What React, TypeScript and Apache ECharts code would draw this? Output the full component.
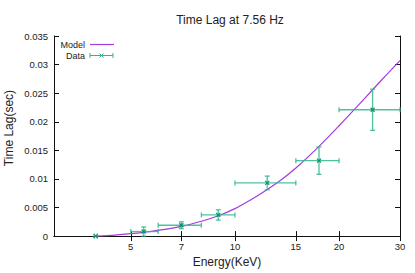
import React, { useEffect, useRef } from "react";
import * as echarts from "echarts";

// Data points (energy in keV, lag in sec)
const energy = [3.96, 5.45, 7.0, 8.95, 12.4, 17.5, 25.0];
const energyLow = [3.92, 5.0, 6.0, 8.0, 10.0, 15.0, 20.0];
const energyHigh = [4.0, 6.0, 8.0, 10.0, 15.0, 20.0, 30.0];
const lag = [0, 0.0008, 0.0019, 0.0037, 0.0093, 0.0132, 0.0221];
const lagErr = [0, 0.0008, 0.0006, 0.0009, 0.0012, 0.0024, 0.0036];

// Model curve
const modelEnergy = [4.0, 4.5, 5.0, 5.5, 6.0, 7.0, 8.0, 9.0, 10.0, 11.0, 12.0, 13.5, 15.0, 17.5, 20.0, 22.5, 25.0, 27.5, 30.0];
const modelLag = [0, 0.00018, 0.00042, 0.0007, 0.001, 0.0017, 0.0026, 0.0036, 0.0048, 0.0062, 0.0076, 0.0097, 0.0119, 0.0157, 0.0193, 0.0226, 0.0256, 0.0283, 0.0307];

const xTicks = [5, 7, 10, 15, 20, 30];

const FONT = "Liberation Sans";
const MODEL_COLOR = "#a23be0";
const DATA_COLOR = "#2fb68e";

export default function App() {
  const ref = useRef<HTMLDivElement>(null);
  useEffect(() => {
    if (!ref.current) return;
    const chart = echarts.init(ref.current, null, { renderer: "svg" });
    const errData = energy.map((e, i) => [e, lag[i], energyLow[i], energyHigh[i], lagErr[i]]);
    const modelData = modelEnergy.map((e, i) => [e, modelLag[i]]);
    const axisColor = "#111";
    const xAxisBase = {
      type: "log" as const,
      logBase: 10,
      min: 3,
      max: 30,
      splitLine: { show: false },
      axisLine: { show: true, lineStyle: { color: axisColor, width: 1 } },
      axisTick: { show: true, inside: true, length: 5, customValues: xTicks, lineStyle: { color: axisColor } },
      minorTick: { show: false },
    };
    const yAxisBase = {
      type: "value" as const,
      min: 0,
      max: 0.035,
      interval: 0.005,
      splitLine: { show: false },
      axisLine: { show: true, lineStyle: { color: axisColor, width: 1 } },
      axisTick: { show: true, inside: true, length: 5, lineStyle: { color: axisColor } },
    };
    chart.setOption({
      animation: false,
      title: {
        text: "Time Lag at 7.56 Hz",
        left: 225,
        top: 9,
        textAlign: "center",
        textStyle: { fontSize: 12, fontWeight: "normal", color: "#222", fontFamily: FONT },
      },
      grid: { left: 54, right: 15, top: 36, bottom: 35 },
      xAxis: [
        {
          ...xAxisBase,
          position: "bottom",
          axisLabel: {
            show: true,
            customValues: xTicks,
            fontSize: 9.5,
            color: "#222",
            fontFamily: FONT,
            margin: 5,
            formatter: (v: number) => String(Math.round(v)),
          },
          name: "Energy(KeV)",
          nameLocation: "middle",
          nameGap: 13,
          nameTextStyle: { fontSize: 12, color: "#222", fontFamily: FONT },
        },
        {
          ...xAxisBase,
          position: "top",
          axisLabel: { show: false },
        },
      ],
      yAxis: [
        {
          ...yAxisBase,
          position: "left",
          axisLabel: { show: true, fontSize: 9.5, color: "#222", fontFamily: FONT, margin: 6 },
        },
        {
          ...yAxisBase,
          position: "right",
          axisLabel: { show: false },
        },
      ],
      graphic: [
        {
          type: "text",
          x: 9,
          y: 128,
          rotation: Math.PI / 2,
          style: {
            text: "Time Lag(sec)",
            fontSize: 12,
            fontFamily: FONT,
            fill: "#222",
            align: "center",
            verticalAlign: "middle",
          },
        },
        {
          type: "text",
          x: 85,
          y: 44.5,
          style: { text: "Model", fontSize: 9, fontFamily: FONT, fill: "#222", align: "right", verticalAlign: "middle" },
        },
        {
          type: "line",
          shape: { x1: 90, y1: 44.5, x2: 114, y2: 44.5 },
          style: { stroke: MODEL_COLOR, lineWidth: 1.2 },
        },
        {
          type: "text",
          x: 85,
          y: 55.5,
          style: { text: "Data", fontSize: 9, fontFamily: FONT, fill: "#222", align: "right", verticalAlign: "middle" },
        },
        {
          type: "group",
          children: [
            { type: "line", shape: { x1: 90, y1: 55.5, x2: 113, y2: 55.5 }, style: { stroke: DATA_COLOR, lineWidth: 1 } },
            { type: "line", shape: { x1: 90, y1: 53, x2: 90, y2: 58 }, style: { stroke: DATA_COLOR, lineWidth: 1 } },
            { type: "line", shape: { x1: 113, y1: 53, x2: 113, y2: 58 }, style: { stroke: DATA_COLOR, lineWidth: 1 } },
            { type: "line", shape: { x1: 99.5, y1: 53.5, x2: 103.5, y2: 57.5 }, style: { stroke: DATA_COLOR, lineWidth: 1 } },
            { type: "line", shape: { x1: 99.5, y1: 57.5, x2: 103.5, y2: 53.5 }, style: { stroke: DATA_COLOR, lineWidth: 1 } },
          ],
        },
      ],
      series: [
        {
          type: "line",
          name: "Model",
          data: modelData,
          showSymbol: false,
          smooth: 0.3,
          lineStyle: { color: MODEL_COLOR, width: 1.2 },
          z: 3,
        },
        {
          type: "custom",
          name: "Data",
          data: errData,
          z: 4,
          renderItem: (params: any, api: any) => {
            const x = api.value(0);
            const y = api.value(1);
            const xl = api.value(2);
            const xh = api.value(3);
            const ye = api.value(4);
            const c = api.coord([x, y]);
            const l = api.coord([xl, y]);
            const h = api.coord([xh, y]);
            const t = api.coord([x, y + ye]);
            const b = api.coord([x, y - ye]);
            const cap = 2.5;
            const st = { stroke: DATA_COLOR, lineWidth: 1.3, opacity: 0.85 };
            const children: any[] = [
              { type: "line", shape: { x1: l[0], y1: c[1], x2: h[0], y2: c[1] }, style: st },
              { type: "line", shape: { x1: l[0], y1: c[1] - cap, x2: l[0], y2: c[1] + cap }, style: st },
              { type: "line", shape: { x1: h[0], y1: c[1] - cap, x2: h[0], y2: c[1] + cap }, style: st },
            ];
            if (ye > 0) {
              children.push(
                { type: "line", shape: { x1: c[0], y1: t[1], x2: c[0], y2: b[1] }, style: st },
                { type: "line", shape: { x1: c[0] - cap, y1: t[1], x2: c[0] + cap, y2: t[1] }, style: st },
                { type: "line", shape: { x1: c[0] - cap, y1: b[1], x2: c[0] + cap, y2: b[1] }, style: st }
              );
            }
            children.push(
              { type: "line", shape: { x1: c[0] - 2, y1: c[1] - 2, x2: c[0] + 2, y2: c[1] + 2 }, style: { stroke: "#0f8f6a", lineWidth: 1.2 } },
              { type: "line", shape: { x1: c[0] - 2, y1: c[1] + 2, x2: c[0] + 2, y2: c[1] - 2 }, style: { stroke: "#0f8f6a", lineWidth: 1.2 } }
            );
            return { type: "group", children };
          },
        },
      ],
    });
    return () => chart.dispose();
  }, []);
  return (
    <div
      ref={ref}
      style={{ position: "absolute", left: 0, top: 0, width: 415, height: 273, background: "#fff" }}
    />
  );
}
